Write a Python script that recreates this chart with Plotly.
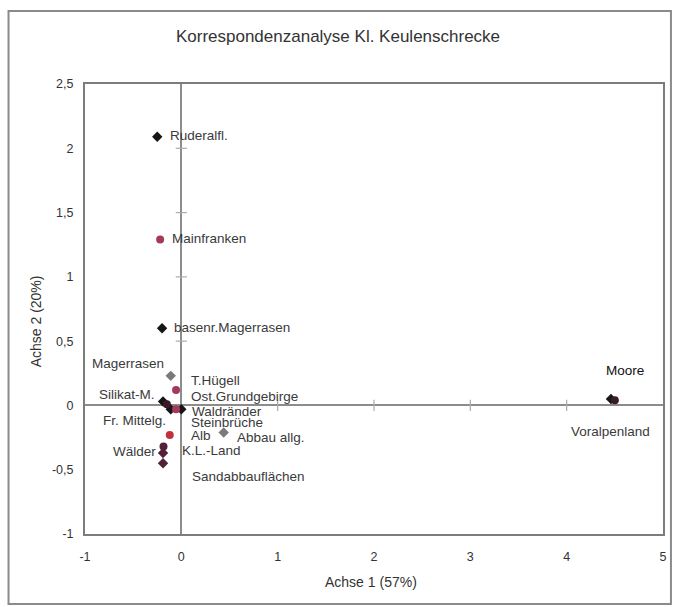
import plotly.graph_objects as go

# Correspondence analysis scores (axis 1, axis 2) per habitat / region
labels = ["Ruderalfl.", "Mainfranken", "basenr.Magerrasen", "Magerrasen", "T.Hügell",
          "Ost.Grundgebirge", "Silikat-M.", "Fr. Mittelg.", "Steinbrüche", "Waldränder",
          "Alb", "Abbau allg.", "K.L.-Land", "Wälder", "Sandabbauflächen",
          "Moore", "Voralpenland"]
axis1 = [-0.25, -0.22, -0.20, -0.11, -0.055,
         -0.055, -0.19, -0.15, -0.11, 0.0,
         -0.12, 0.44, -0.185, -0.19, -0.19,
         4.46, 4.50]
axis2 = [2.09, 1.29, 0.60, 0.23, 0.12,
         -0.03, 0.03, 0.01, -0.03, -0.03,
         -0.23, -0.21, -0.32, -0.37, -0.45,
         0.05, 0.04]
kind = ["habitat", "region", "habitat", "habitat_grey", "region",
        "region", "habitat", "region_dark", "habitat", "habitat",
        "region_red", "habitat_grey", "region_maroon", "habitat_maroon", "habitat_maroon",
        "habitat", "region_dark"]

x_ticks = [-1, 0, 1, 2, 3, 4, 5]
y_ticks = [-1, -0.5, 0, 0.5, 1, 1.5, 2, 2.5]
y_tick_text = ["-1", "-0,5", "0", "0,5", "1", "1,5", "2", "2,5"]
zero_ticks_x = [1, 2, 3, 4]
zero_ticks_y = [0.5, 1, 1.5, 2]

styles = {
    "habitat": ("diamond", "#161616", 8),
    "habitat_grey": ("diamond", "#7a7a7a", 8),
    "habitat_maroon": ("diamond", "#55203a", 8),
    "region": ("circle", "#a23a58", 8),
    "region_dark": ("circle", "#3a1a28", 8),
    "region_red": ("circle", "#c2303e", 8),
    "region_maroon": ("circle", "#55203a", 8),
}

# label offsets (pixels) and anchor per point
label_pos = {
    "Ruderalfl.": (11, 1, "left"),
    "Mainfranken": (10, 1, "left"),
    "basenr.Magerrasen": (10, 1, "left"),
    "Magerrasen": (-5, 12, "right"),
    "T.Hügell": (13, 10, "left"),
    "Ost.Grundgebirge": (13, 13, "left"),
    "Silikat-M.": (-6, 7, "right"),
    "Fr. Mittelg.": (1, -16, "right"),
    "Steinbrüche": (18, -13, "left"),
    "Waldränder": (9, -2, "left"),
    "Alb": (19, 0, "left"),
    "Abbau allg.": (11, -5, "left"),
    "K.L.-Land": (16, -4, "left"),
    "Wälder": (-5, 2, "right"),
    "Sandabbauflächen": (27, -13, "left"),
    "Moore": (-7, 29, "left"),
    "Voralpenland": (-46, -31, "left"),
}

FONT = "Liberation Sans, Arial, sans-serif"
W, H = 678, 607
L, R, T, B = 85, 667, 84, 534  # plot area in pixels

fig = go.Figure()

# small tick marks along the zero lines
fig.add_trace(go.Scatter(x=zero_ticks_x, y=[0] * len(zero_ticks_x), mode="markers",
                         marker=dict(symbol="line-ns-open", size=8, color="#ababab",
                                     line=dict(color="#ababab", width=1.2)),
                         hoverinfo="skip", showlegend=False))
fig.add_trace(go.Scatter(x=[0] * len(zero_ticks_y), y=zero_ticks_y, mode="markers",
                         marker=dict(symbol="line-ew-open", size=8, color="#ababab",
                                     line=dict(color="#ababab", width=1.2)),
                         hoverinfo="skip", showlegend=False))

for key, (sym, col, sz) in styles.items():
    idx = [i for i, k in enumerate(kind) if k == key]
    fig.add_trace(go.Scatter(
        x=[axis1[i] for i in idx], y=[axis2[i] for i in idx],
        text=[labels[i] for i in idx], mode="markers",
        marker=dict(symbol=sym, color=col, size=sz, line=dict(width=0)),
        showlegend=False))

for name, xv, yv in zip(labels, axis1, axis2):
    dx, dy, anchor = label_pos[name]
    fig.add_annotation(x=xv, y=yv, text=name, showarrow=False,
                       xanchor=anchor, yanchor="middle", xshift=dx, yshift=dy,
                       font=dict(family=FONT, size=13.5,
                                 color="#111" if name == "Moore" else "#3a3a3a"))

pw, ph = R - L, B - T


def px(xp):
    return (xp - L) / pw


def py(yp):
    return (B - yp) / ph


fig.add_annotation(xref="paper", yref="paper", x=px(373), y=py(582),
                   xanchor="center", yanchor="middle",
                   text="Achse 1 (57%)", showarrow=False,
                   font=dict(family=FONT, size=14, color="#333"))
fig.add_annotation(xref="paper", yref="paper", x=px(36), y=py(321),
                   xanchor="center", yanchor="middle",
                   text="Achse 2 (20%)", showarrow=False, textangle=-90,
                   font=dict(family=FONT, size=14, color="#333"))

# outer frame around the whole chart
fig.add_shape(type="rect", xref="paper", yref="paper",
              x0=px(8), x1=px(675), y0=py(604), y1=py(11),
              line=dict(color="#8a8a8a", width=2), layer="below")

fig.update_layout(
    width=W, height=H,
    margin=dict(l=L, r=W - R, t=T, b=H - B),
    paper_bgcolor="white", plot_bgcolor="white",
    title=dict(text="Korrespondenzanalyse Kl. Keulenschrecke",
               x=338 / W, xanchor="center", y=1 - 36 / H, yanchor="middle",
               font=dict(family=FONT, size=17, color="#333")),
    xaxis=dict(range=[-1, 5], tickvals=x_ticks, ticktext=[str(v) for v in x_ticks],
               showgrid=False, zeroline=True, zerolinecolor="#8c8c8c", zerolinewidth=1.5,
               showline=True, mirror=True, linecolor="#7c7c7c", linewidth=2,
               ticks="outside", ticklen=10, tickcolor="rgba(0,0,0,0)",
               tickfont=dict(family=FONT, size=12.5, color="#333")),
    yaxis=dict(range=[-1, 2.5], tickvals=y_ticks, ticktext=y_tick_text,
               showgrid=False, zeroline=True, zerolinecolor="#8c8c8c", zerolinewidth=1.5,
               showline=True, mirror=True, linecolor="#7c7c7c", linewidth=2,
               ticks="outside", ticklen=7, tickcolor="rgba(0,0,0,0)",
               tickfont=dict(family=FONT, size=12.5, color="#333")),
)

fig.write_html("out.html")
